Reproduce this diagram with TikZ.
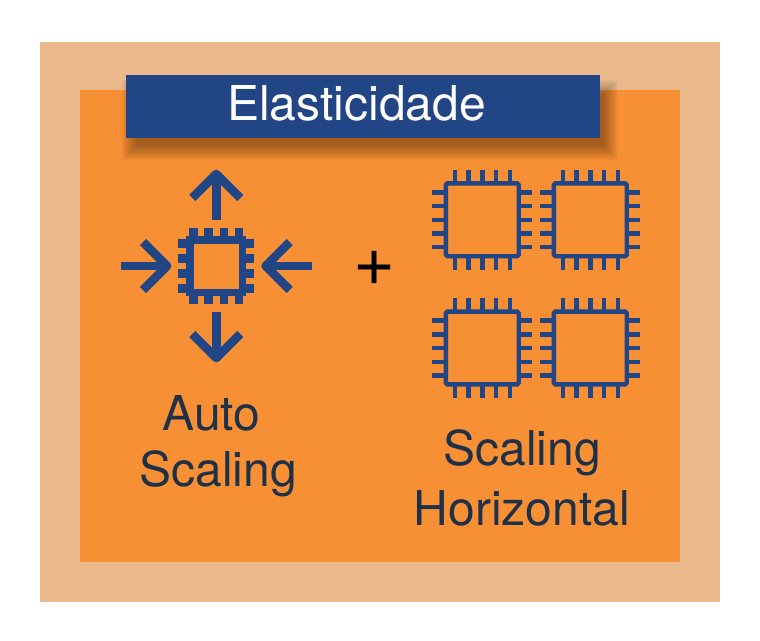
\documentclass[tikz,border=0pt]{standalone}
\usepackage{fontspec}
\setmainfont{TeX Gyre Heros}
\usetikzlibrary{arrows.meta,positioning}
\definecolor{elsand}{HTML}{EBB98C}
\definecolor{elorange}{HTML}{F78F35}
\definecolor{elblue}{HTML}{224586}
\definecolor{elink}{HTML}{1F3148}

\begin{document}
\begin{tikzpicture}[x=1pt,y=-1pt,
  lbl/.style={font=\fontsize{48}{56}\selectfont,text=elink,align=center,inner sep=0pt},
  arw/.style={elblue,line width=8.7pt,line join=round},
  cpu/.pic={
    \draw[elblue,line width=4.4pt,rounded corners=1.5pt] (-36.4,-36.4) rectangle (36.4,36.4);
    \foreach \p in {-27.4,-13.7,0,13.7,27.4} {
      \draw[elblue,line width=4.4pt] (\p,-50) -- (\p,-36.4);
      \draw[elblue,line width=4.4pt] (\p,36.4) -- (\p,50);
      \draw[elblue,line width=4.4pt] (-50,\p) -- (-36.4,\p);
      \draw[elblue,line width=4.4pt] (36.4,\p) -- (50,\p);
    }
  }
]
\useasboundingbox (0,0) rectangle (760,640);

% Panels
\fill[elsand] (40,42) rectangle (720,602);
\fill[elorange] (80,90) rectangle (680,562);

% ---- Banner shadow -----------------------------------------
\foreach \g in {0,1,...,14}
  \fill[black,opacity=0.022] (122+\g,80+\g) rectangle (618-\g,160-\g);

\node[fill=elblue,minimum width=474pt,minimum height=63pt,inner sep=0pt]
  (ban) at (363,106.5) {};
\node[text=white,font=\fontsize{48}{56}\selectfont,inner sep=0pt]
  (ttl) at (356.5,103) {Elasticidade};

% ---- Small chip with arrows --------------------------------
\coordinate (ctr) at (216.3,266);
\fill[elblue] (186.3,236) rectangle (246.3,296);
\fill[elorange] (193.8,243.5) rectangle (238.8,288.5);
\foreach \p in {-22.6,-7.6,7.6,22.6} {
  \fill[elblue] ([shift={(\p-4.3,-38)}]ctr) rectangle ([shift={(\p+4.3,-29)}]ctr);
  \fill[elblue] ([shift={(\p-4.3,29)}]ctr) rectangle ([shift={(\p+4.3,38)}]ctr);
  \fill[elblue] ([shift={(-38,\p-4.3)}]ctr) rectangle ([shift={(-29,\p+4.3)}]ctr);
  \fill[elblue] ([shift={(29,\p-4.3)}]ctr) rectangle ([shift={(38,\p+4.3)}]ctr);
}
\coordinate (tops) at (216.3,220);
\coordinate (topt) at (216.3,174);
\coordinate (bots) at (216.3,312);
\coordinate (bott) at (216.3,358);
\coordinate (lefs) at (121,266);
\coordinate (left) at (167,266);
\coordinate (rigs) at (311.7,266);
\coordinate (rigt) at (265.7,266);

\draw[arw] (tops) -- (topt);
\draw[arw] ([shift={(-24,24)}]topt) -- (topt) -- ([shift={(24,24)}]topt);
\draw[arw] (bots) -- (bott);
\draw[arw] ([shift={(-24,-24)}]bott) -- (bott) -- ([shift={(24,-24)}]bott);
\draw[arw] (lefs) -- (left);
\draw[arw] ([shift={(-24,-24)}]left) -- (left) -- ([shift={(-24,24)}]left);
\draw[arw] (rigs) -- (rigt);
\draw[arw] ([shift={(24,-24)}]rigt) -- (rigt) -- ([shift={(24,24)}]rigt);

% ---- Plus --------------------------------------------------
\node[font=\fontsize{72}{72}\selectfont,text=black,inner sep=0pt] (pls) at (374.5,268) {+};

% ---- Big chips ---------------------------------------------
\pic at (482.3,219.8) {cpu};
\pic at (590.3,219.8) {cpu};
\pic at (482.3,348) {cpu};
\pic at (590.3,348) {cpu};

% ---- Labels ------------------------------------------------
\node[lbl] (aut) at (218,446.5) {Auto\hspace*{13pt}\\Scaling};
\node[lbl,font=\fontsize{48}{60}\selectfont] (hor) at (522,477.5) {Scaling\\Horizontal};

\end{tikzpicture}
\end{document}
